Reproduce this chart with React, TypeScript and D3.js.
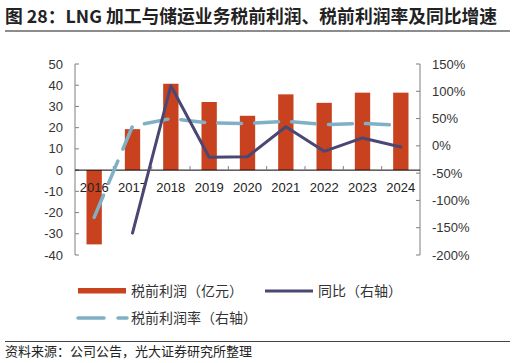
import React from "react";
import * as d3 from "d3";

const years = ["2016", "2017", "2018", "2019", "2020", "2021", "2022", "2023", "2024"];
const profit = [-35, 19.3, 40.7, 32.1, 25.6, 35.7, 31.7, 36.5, 36.5];
const yoy = [null, -160, 110, -21, -20, 35, -10, 14.5, -2];
const margin = [-131, 36, 50, 42, 41, 45, 39, 41, 38];
const leftTicks = [50, 40, 30, 20, 10, 0, -10, -20, -30, -40];
const rightTicks = [150, 100, 50, 0, -50, -100, -150, -200];

const W = 516;
const H = 363;
const plot = { left: 75, right: 420, top: 64, bottom: 255 };
const numFont = "'Liberation Sans', Arial, 'Noto Sans CJK SC', sans-serif";
const cjkFont = "'Noto Sans CJK SC', 'Liberation Sans', sans-serif";
const barColor = "#C8421F";
const yoyColor = "#4A4773";
const marginColor = "#7FB0C6";
const axisColor = "#7f7f7f";

export default function App() {
  const x = d3.scaleBand<string>().domain(years).range([plot.left, plot.right]);
  const yL = d3.scaleLinear().domain([-40, 50]).range([plot.bottom, plot.top]);
  const yR = d3.scaleLinear().domain([-200, 150]).range([plot.bottom, plot.top]);
  const cx = (i: number) => (x(years[i]) as number) + x.bandwidth() / 2;
  const bw = x.bandwidth() * 0.4;

  const yoyLine = d3
    .line<number | null>()
    .defined((d) => d !== null)
    .x((_, i) => cx(i))
    .y((d) => yR(d as number));
  const marginLine = d3
    .line<number>()
    .x((_, i) => cx(i))
    .y((d) => yR(d));

  return (
    <svg width={W} height={H} style={{ position: "absolute", left: 0, top: 0, background: "#fff" }}>
      <text x={5} y={23} fontFamily={cjkFont} fontSize={17.8} fontWeight="bold" fill="#222">
        图 28：LNG 加工与储运业务税前利润、税前利润率及同比增速
      </text>
      <line x1={5} x2={510} y1={31} y2={31} stroke="#666" strokeWidth={1.5} />

      {/* bars */}
      {profit.map((v, i) => (
        <rect
          key={years[i]}
          x={cx(i) - bw / 2}
          width={bw}
          y={Math.min(yL(v), yL(0))}
          height={Math.abs(yL(v) - yL(0))}
          fill={barColor}
        />
      ))}

      {/* left axis */}
      <line x1={plot.left} x2={plot.left} y1={plot.top} y2={plot.bottom} stroke={axisColor} />
      {leftTicks.map((t) => (
        <g key={"l" + t}>
          <line x1={plot.left} x2={plot.left + 4} y1={yL(t)} y2={yL(t)} stroke={axisColor} />
          <text x={63} y={yL(t) + 4.5} textAnchor="end" fontFamily={numFont} fontSize={13} fill="#333">
            {t}
          </text>
        </g>
      ))}

      {/* right axis */}
      <line x1={plot.right} x2={plot.right} y1={plot.top} y2={plot.bottom} stroke={axisColor} />
      {rightTicks.map((t) => (
        <g key={"r" + t}>
          <line x1={plot.right - 4} x2={plot.right} y1={yR(t)} y2={yR(t)} stroke={axisColor} />
          <text x={432} y={yR(t) + 4.5} fontFamily={numFont} fontSize={13} fill="#333">
            {t}%
          </text>
        </g>
      ))}

      {/* x axis */}
      <line x1={plot.left} x2={plot.right} y1={yL(0)} y2={yL(0)} stroke="#000" />
      {years.map((yr, i) => (
        <g key={"x" + yr}>
          {i > 0 && (
            <line
              x1={x(yr) as number}
              x2={x(yr) as number}
              y1={yL(0)}
              y2={yL(0) - 4}
              stroke={axisColor}
            />
          )}
          <text x={cx(i)} y={192} textAnchor="middle" fontFamily={numFont} fontSize={13} fill="#222">
            {yr}
          </text>
        </g>
      ))}

      {/* lines */}
      <path
        d={marginLine(margin) || ""}
        fill="none"
        stroke={marginColor}
        strokeWidth={3.5}
        strokeDasharray="24 13"
        strokeLinecap="round"
      />
      <path
        d={yoyLine(yoy) || ""}
        fill="none"
        stroke={yoyColor}
        strokeWidth={3}
        strokeLinecap="round"
        strokeLinejoin="round"
      />

      {/* legend */}
      <rect x={78} y={288} width={48} height={5.5} fill={barColor} />
      <text x={131} y={296} fontFamily={cjkFont} fontSize={14} fill="#333">
        税前利润（亿元）
      </text>
      <line x1={265} x2={313} y1={291} y2={291} stroke={yoyColor} strokeWidth={3} />
      <text x={318} y={296} fontFamily={cjkFont} fontSize={14} fill="#333">
        同比（右轴）
      </text>
      <line x1={78} x2={104} y1={318} y2={318} stroke={marginColor} strokeWidth={3.5} strokeLinecap="round" />
      <line x1={118} x2={127} y1={318} y2={318} stroke={marginColor} strokeWidth={3.5} strokeLinecap="round" />
      <text x={131} y={323} fontFamily={cjkFont} fontSize={14} fill="#333">
        税前利润率（右轴）
      </text>

      <line x1={5} x2={510} y1={341.5} y2={341.5} stroke="#444" strokeWidth={1} />
      <text x={5} y={356} fontFamily={cjkFont} fontSize={13} fill="#222">
        资料来源：公司公告，光大证券研究所整理
      </text>
    </svg>
  );
}
